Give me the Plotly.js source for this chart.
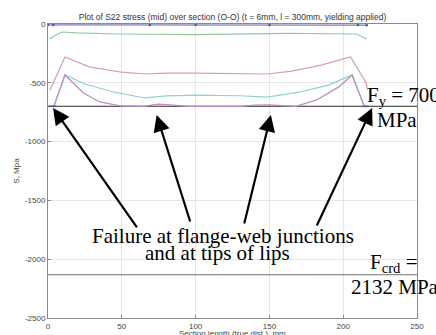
<!DOCTYPE html>
<html>
<head>
<meta charset="utf-8">
<script src="https://cdn.plot.ly/plotly-3.0.1.min.js"></script>
<style>
  html, body { margin: 0; padding: 0; background: #fff; }
  #chart { width: 436px; height: 335px; }
</style>
</head>
<body>
<div id="chart"></div>
<script>
// S22 stress (mid) along section O-O, MPa, against section length (mm)
var navyX   = [0, 3.5, 69, 100, 150, 210, 216];
var navyY   = [-8, -8, -8, -8, -8, -8, -10];

var greenX  = [1, 5, 9.5, 20, 48, 100, 163, 200, 209, 216];
var greenY  = [-128, -95, -68, -75, -85, -90, -80, -82, -85, -128];

var redX    = [1.4, 11.5, 28, 50, 65.5, 80, 100, 130, 148.6, 165, 185, 205, 215.5, 216.5];
var redY    = [-561, -280, -365, -410, -425, -418, -417, -418, -425, -400, -350, -280, -500, -561];

var tealX   = [4, 11.5, 25, 45, 65.5, 80, 100, 130, 148.6, 170, 190, 206, 214];
var tealY   = [-700, -433, -510, -580, -629, -612, -605, -610, -622, -580, -520, -433, -690];

var purpleX = [4, 11.5, 24, 35, 49, 65, 70, 75, 85, 95, 130, 140, 150, 160, 168, 182, 197, 206, 214];
var purpleY = [-700, -433, -587, -663, -697, -700, -690, -682, -690, -700, -700, -690, -688, -698, -700, -646, -535, -433, -690];

// short segments held at the yield limit at the section ends
var capLeftX  = [0.7, 5.4];
var capRightX = [213, 217];

var fy   = 700;   // yield stress, MPa
var fcrd = 2132;  // critical buckling stress, MPa

var xTicks = [0, 50, 100, 150, 200, 250];
var yTicks = [0, -500, -1000, -1500, -2000, -2500];

function line(x, y, color, width) {
  return { x: x, y: y, type: 'scatter', mode: 'lines',
           line: { color: color, width: width || 1.2 }, hoverinfo: 'skip', showlegend: false };
}

var traces = [
  line([0, 250], [-fy, -fy], '#2a2a2a', 1.1),
  line([0, 250], [-fcrd, -fcrd], '#707070', 1.1),
  line(greenX, greenY, '#93c9a2', 1.2),
  line(redX, redY, '#dc9aa7', 1.2),
  line(tealX, tealY, '#8fd3ca', 1.2),
  line(purpleX, purpleY, '#b98fc4', 1.3),
  line(capLeftX, [-fy, -fy], '#4a529e', 1.6),
  line(capRightX, [-fy, -fy], '#4a529e', 1.6),
  { x: navyX, y: navyY, type: 'scatter', mode: 'lines+markers',
    line: { color: '#7a7dcc', width: 1.3 }, marker: { size: 2.5, color: '#50559e' },
    hoverinfo: 'skip', showlegend: false }
];

var sans = 'Arial, Liberation Sans, sans-serif';
var serif = { family: 'Liberation Serif, Times New Roman, serif', size: 21, color: '#000' };

function label(text, x, y) {
  return { text: text, x: x, y: y, xref: 'x', yref: 'y', showarrow: false,
           xanchor: 'center', yanchor: 'middle', font: serif };
}
function arrow(x, y, ax, ay) {
  return { text: '', x: x, y: y, xref: 'x', yref: 'y', ax: ax, ay: ay,
           showarrow: true, arrowhead: 2, arrowsize: 1.5, arrowwidth: 2.2, arrowcolor: '#000' };
}

var layout = {
  width: 436, height: 335,
  margin: { l: 48, r: 19, t: 24, b: 17 },
  paper_bgcolor: '#fff', plot_bgcolor: '#fff',
  title: { text: 'Plot of S22 stress (mid) over section (O-O) (t = 6mm, l = 300mm, yielding applied)',
           font: { family: sans, size: 8.5, color: '#333' },
           x: 0.5, xref: 'paper', y: 1, yref: 'paper', yanchor: 'bottom', pad: { b: 4 } },
  xaxis: {
    range: [0, 250], tickvals: xTicks, ticktext: xTicks.map(String),
    showgrid: true, gridcolor: '#e6e6e6', zeroline: false,
    showline: true, mirror: true, linecolor: '#8a8a8a', linewidth: 1,
    ticks: 'inside', ticklen: 3, tickcolor: '#8a8a8a',
    tickfont: { family: sans, size: 8, color: '#444' }
  },
  yaxis: {
    range: [-2500, 0], tickvals: yTicks, ticktext: yTicks.map(String),
    showgrid: true, gridcolor: '#e6e6e6', zeroline: false,
    showline: true, mirror: true, linecolor: '#8a8a8a', linewidth: 1,
    ticks: 'inside', ticklen: 3, tickcolor: '#8a8a8a',
    tickfont: { family: sans, size: 8, color: '#444' },
    title: { text: 'S, Mpa', standoff: 4, font: { family: sans, size: 8, color: '#444' } }
  },
  annotations: [
    // x-axis caption sits below the tick labels, at the page's bottom edge
    { text: 'Section length (true dist.), mm', xref: 'paper', yref: 'paper', x: 0.5, y: -0.052,
      xanchor: 'center', yanchor: 'middle', showarrow: false,
      font: { family: sans, size: 8, color: '#444' } },
    arrow(3.4, -714, 85, 121),
    arrow(73.6, -774, 34, 108),
    arrow(151, -774, -27, 110),
    arrow(219.6, -714, -56, 119),
    label('Failure at flange-web junctions', 118.6, -1805),
    label('and at tips of lips', 115, -1945),
    label('F<sub>y</sub> = 700', 241, -615),
    label('MPa', 236.5, -816),
    label('F<sub>crd</sub> =', 234.5, -2030),
    label('2132 MPa', 235, -2236)
  ]
};

Plotly.newPlot('chart', traces, layout, { staticPlot: true, displayModeBar: false });
</script>
</body>
</html>
